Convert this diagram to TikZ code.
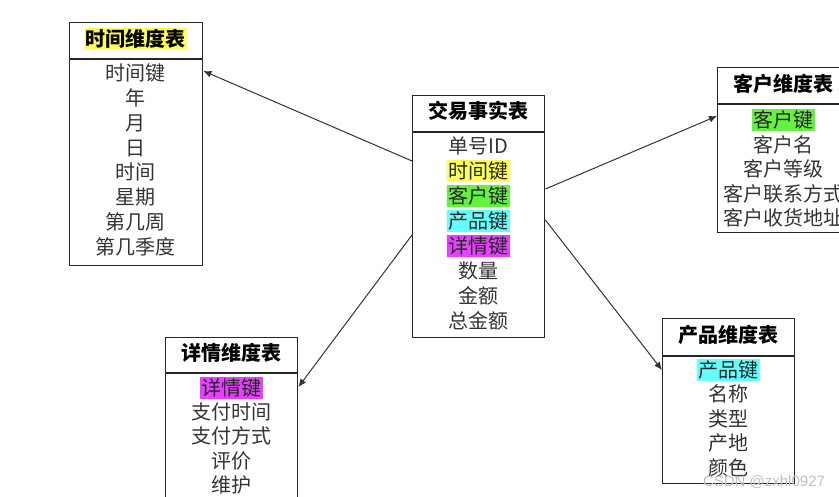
\documentclass[tikz,border=0pt]{standalone}
\usepackage{fontspec}
\setmainfont{Noto Sans CJK SC}
\newfontfamily\markfont{Liberation Sans}
\usetikzlibrary{arrows.meta}

\definecolor{hlyellow}{RGB}{255,255,85}
\definecolor{hlgreen}{RGB}{102,240,64}
\definecolor{hlcyan}{RGB}{102,255,255}
\definecolor{hlmagenta}{RGB}{230,64,255}

\begin{document}
\begin{tikzpicture}[
  x=1pt, y=-1pt,
  tbl/.style={rectangle, draw=black!85, line width=1.4pt, anchor=north west,
              minimum width=#1, inner sep=0pt},
  rule/.style={draw=black!85, line width=1.4pt},
  ttl/.style={font=\fontsize{20}{24}\selectfont\bfseries, text=black,
              text height=17pt, text depth=2pt, inner xsep=1pt, inner ysep=1.5pt},
  fld/.style={font=\fontsize{20}{24}\selectfont, text=black!80,
              text height=17pt, text depth=2pt, inner xsep=1.5pt, inner ysep=1.5pt},
  hl/.style={fld, fill=#1, text=black!85},
  arr/.style={-{Latex[length=8pt, width=7pt]}, line width=1pt, draw=black!80},
  wm/.style={font=\markfont\fontsize{15}{18}\selectfont, text=black!25}
]
\useasboundingbox (0,0) rectangle (839,497);
\clip (0,0) rectangle (839,497);

% time dimension
\node[tbl=133pt, minimum height=243pt] (timebox) at (69,22) {};
\draw[rule] (69,59) -- (202,59);
\node[ttl, fill=hlyellow] (timeT) at (135.5,39) {时间维度表};
\node[fld] (timeK)  at (135.5,73)  {时间键};
\node[fld] (timeY)  at (135.5,98)  {年};
\node[fld] (timeM)  at (135.5,123) {月};
\node[fld] (timeD)  at (135.5,148) {日};
\node[fld] (timeH)  at (135.5,172) {时间};
\node[fld] (timeW)  at (135.5,197) {星期};
\node[fld] (timeWk) at (135.5,222) {第几周};
\node[fld] (timeQ)  at (135.5,247) {第几季度};

% fact table
\node[tbl=132pt, minimum height=242pt] (factbox) at (412,95) {};
\draw[rule] (412,132) -- (544,132);
\node[ttl] (factT) at (478,111) {交易事实表};
\node[fld] (factId)  at (478,146) {单号ID};
\node[hl=hlyellow]  (factTk) at (478,171) {时间键};
\node[hl=hlgreen]   (factCk) at (478,196) {客户键};
\node[hl=hlcyan]    (factPk) at (478,221) {产品键};
\node[hl=hlmagenta] (factDk) at (478,246) {详情键};
\node[fld] (factQty) at (478,271) {数量};
\node[fld] (factAmt) at (478,296) {金额};
\node[fld] (factSum) at (478,321) {总金额};

% customer dimension
\node[tbl=132pt, minimum height=165pt] (custbox) at (717,67) {};
\draw[rule] (717,104) -- (849,104);
\node[ttl] (custT) at (783,84) {客户维度表};
\node[hl=hlgreen] (custK) at (783,120) {客户键};
\node[fld] (custN)   at (783,145) {客户名};
\node[fld] (custL)   at (783,169) {客户等级};
\node[fld] (custTel) at (783,194) {客户联系方式};
\node[fld] (custAdr) at (783,218) {客户收货地址};

% detail dimension
\node[tbl=132pt, minimum height=190pt] (detbox) at (165,337) {};
\draw[rule] (165,373) -- (297,373);
\node[ttl] (detT) at (231,353) {详情维度表};
\node[hl=hlmagenta] (detK) at (231,388) {详情键};
\node[fld] (detPt) at (231,412) {支付时间};
\node[fld] (detPm) at (231,436) {支付方式};
\node[fld] (detR)  at (231,461) {评价};
\node[fld] (detM)  at (231,485) {维护};

% product dimension
\node[tbl=132pt, minimum height=165pt] (prodbox) at (662,318) {};
\draw[rule] (662,356) -- (794,356);
\node[ttl] (prodT) at (728,335) {产品维度表};
\node[hl=hlcyan] (prodK) at (728,370) {产品键};
\node[fld] (prodN) at (728,394) {名称};
\node[fld] (prodT2) at (728,419) {类型};
\node[fld] (prodO) at (728,443) {产地};
\node[fld] (prodC) at (728,468) {颜色};

% connectors
\coordinate (outTime) at (factbox.west |- 0,161);
\coordinate (inTime)  at (timebox.east |- 0,71);
\coordinate (outCust) at (factbox.east |- 0,189);
\coordinate (inCust)  at (custbox.west |- 0,116);
\coordinate (outDet)  at (factbox.west |- 0,235);
\coordinate (inDet)   at (detbox.east |- 0,387);
\coordinate (outProd) at (factbox.east |- 0,220);
\coordinate (inProd)  at (prodbox.west |- 0,370);

\draw[arr] (outTime) -- (inTime);
\draw[arr] (outCust) -- (inCust);
\draw[arr] (outDet)  -- (inDet);
\draw[arr] (outProd) -- (inProd);

\node[wm] (mark) at (764,482) {CSDN @zxhl0927};
\end{tikzpicture}
\end{document}
